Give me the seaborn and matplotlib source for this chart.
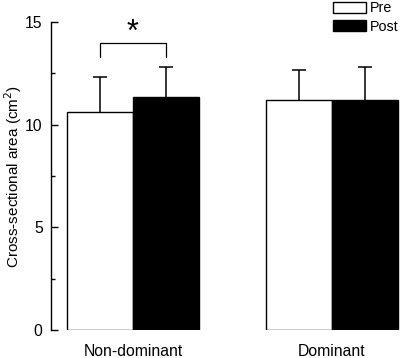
import numpy as np
import pandas as pd
import matplotlib
matplotlib.use("Agg")
import matplotlib.pyplot as plt
import seaborn as sns

# values
sides = ["Non-dominant", "Dominant"]
times = ["Pre", "Post"]
pre_mean = [10.6, 11.2]
post_mean = [11.35, 11.2]
pre_sd = [1.7, 1.45]
post_sd = [1.45, 1.6]
sig_level = 14.0

sns.set_theme(style="ticks", rc={"axes.edgecolor": "black", "text.color": "black",
                                 "axes.labelcolor": "black", "xtick.color": "black",
                                 "ytick.color": "black"})
plt.rcParams["font.family"] = ["Liberation Sans", "DejaVu Sans"]

df = pd.DataFrame({
    "side": sides * 2,
    "time": ["Pre"] * 2 + ["Post"] * 2,
    "csa": pre_mean + post_mean,
    "sd": pre_sd + post_sd,
})

fig = plt.figure(figsize=(4.0, 3.58), dpi=100)
ax = fig.add_axes([51 / 400, 28 / 358, 349 / 400, 308 / 358])

sns.barplot(data=df, x="side", y="csa", hue="time", order=sides,
            hue_order=times, palette=["white", "black"], edgecolor="black",
            linewidth=1.0, width=0.663, gap=0, errorbar=None, ax=ax)

# upper-only error bars (stem + top cap)
cap = 0.035
for cont, t in zip(ax.containers, times):
    sub = df[df["time"] == t].set_index("side").loc[sides]
    xs = np.array([b.get_x() + b.get_width() / 2 for b in cont])
    tops = sub["csa"].values + sub["sd"].values
    ax.vlines(xs, sub["csa"].values, tops, color="black", lw=1.1, zorder=1)
    ax.hlines(tops, xs - cap, xs + cap, color="black", lw=1.1, zorder=1)

# significance bracket on non-dominant
b0 = ax.containers[0][0]
b1 = ax.containers[1][0]
x0 = b0.get_x() + b0.get_width() / 2
x1 = b1.get_x() + b1.get_width() / 2
ax.plot([x0, x0, x1, x1], [sig_level - 0.7, sig_level, sig_level, sig_level - 0.7],
        color="black", lw=0.9)
ax.text((x0 + x1) / 2, sig_level + 0.45, "*", ha="center", va="center",
        fontsize=22)

ax.set_xlim(-0.412, 1.342)
ax.set_ylim(0, 15)
ax.set_yticks([0, 5, 10, 15])
ax.set_yticks([2.5, 7.5, 12.5], minor=True)
ax.tick_params(axis="y", direction="in", length=5, width=1, labelsize=11.3,
               pad=6)
ax.tick_params(axis="y", which="minor", direction="in", length=3, width=1)
ax.tick_params(axis="x", length=0, labelsize=11.3, pad=10)
ax.set_xlabel("")
ax.set_ylabel("Cross-sectional area (cm$^2$)", fontsize=11)
ax.yaxis.set_label_coords(-0.078, 0.5)
sns.despine(ax=ax, bottom=True)
ax.spines["left"].set_linewidth(1)

ax.legend(loc="upper left", bbox_to_anchor=(332 / 400, 1.0),
          bbox_transform=fig.transFigure, frameon=False, fontsize=10.3,
          handlelength=2.25, handleheight=0.78, handletextpad=0.3,
          labelspacing=0.3, borderpad=0.1, borderaxespad=0)

fig.savefig("out.png", dpi=100)
